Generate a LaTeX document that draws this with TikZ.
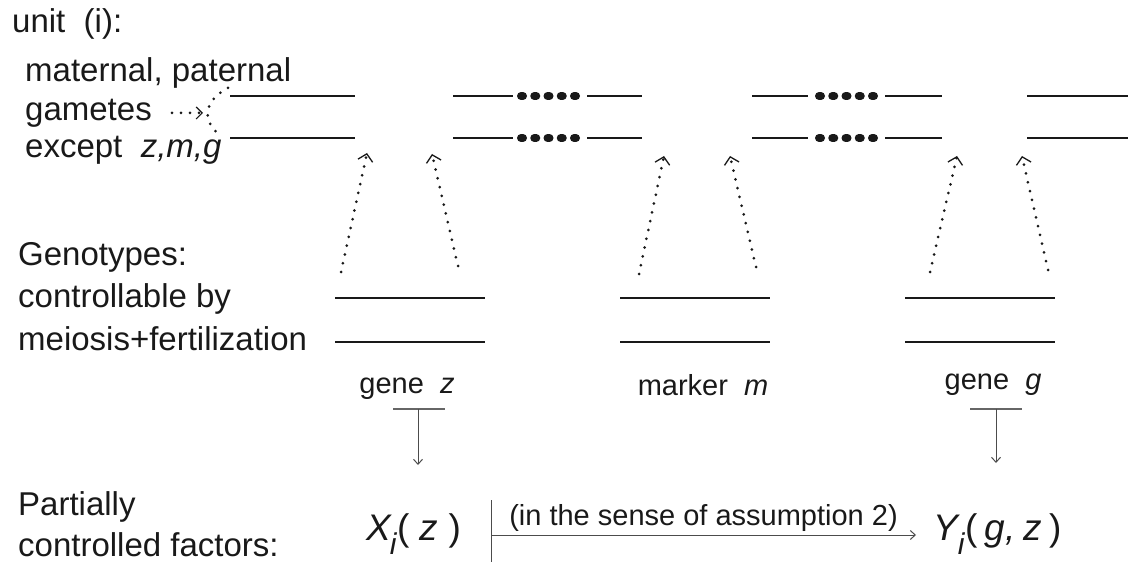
\documentclass[tikz,border=0pt]{standalone}
\usepackage{fontspec}
\setmainfont{Liberation Sans}
\usetikzlibrary{arrows.meta}
\begin{document}
\begin{tikzpicture}[x=1pt,y=-1pt,
  lbl/.style={font=\fontsize{33}{38}\selectfont, inner sep=0pt, anchor=base west, text=black!90},
  sml/.style={font=\fontsize{29}{33}\selectfont, inner sep=0pt, anchor=base, text=black!90},
  big/.style={font=\fontsize{37}{42}\selectfont, inner sep=0pt, anchor=base west, text=black!90},
  gam/.style={line width=2.8pt, black!90},
  gdots/.style={line width=8pt, line cap=round, dash pattern=on 2pt off 11.25pt, black!90},
  geno/.style={line width=2.2pt, black!90},
  dotarrow/.style={line width=3pt, line cap=round, dash pattern=on 0pt off 9pt, black!90,
    -{Straight Barb[length=7pt,width=15pt,line width=1.3pt]}},
  dotline/.style={line width=3pt, line cap=round, dash pattern=on 0pt off 9pt, black!90},
  tbar/.style={line width=1.8pt, black!60},
  thinl/.style={line width=1pt, black!70},
  thinarrow/.style={line width=1pt, black!70, -{Straight Barb[length=5pt,width=9pt,line width=1pt]}}
]
\useasboundingbox (0,0) rectangle (1128,564);

% ---- left texts
\node[lbl] (unit) at (12,33) {unit\ \ (i):};
\node[lbl] (mat) at (25,82) {maternal, paternal};
\node[lbl] (gam) at (25,121) {gametes};
\node[lbl] (exc) at (25,158) {except\ \ \textit{z,m,g}};

\node[lbl] (geno) at (18,266) {Genotypes:};
\node[lbl] (ctrl) at (18,308) {controllable by};
\node[lbl] (meio) at (18,350) {meiosis+fertilization};

\node[lbl] (part) at (18,515) {Partially};
\node[lbl] (cfac) at (18,556) {controlled factors:};

% ---- gamete lines
\foreach \y in {96,138}{
  \draw[gam] (230,\y) -- (355,\y);
  \draw[gam] (453,\y) -- (513,\y);
  \draw[gdots] (521,\y) -- (578,\y);
  \draw[gam] (587,\y) -- (642,\y);
  \draw[gam] (752,\y) -- (808,\y);
  \draw[gdots] (819,\y) -- (876,\y);
  \draw[gam] (885,\y) -- (942,\y);
  \draw[gam] (1027,\y) -- (1128,\y);
}

% ---- gametes pointer and bracket
\coordinate (gs) at (172,113);
\coordinate (gt) at (203,113);
\draw[dotarrow, -{Straight Barb[length=6pt,width=12pt,line width=1.2pt]}] (gs) -- (gt);
\coordinate (b1) at (228,88);
\coordinate (b2) at (222,136);
\draw[dotline] (b1) .. controls (202,101) and (202,124) .. (b2);

% ---- genotype lines
\foreach \y in {298,342}{
  \draw[geno] (335,\y) -- (485,\y);
  \draw[geno] (620,\y) -- (770,\y);
  \draw[geno] (905,\y) -- (1055,\y);
}

% ---- dotted arrows genotype -> gametes
\coordinate (s1) at (341,272); \coordinate (t1) at (367,153);
\coordinate (s2) at (458,266); \coordinate (t2) at (432,154);
\coordinate (s3) at (639,274); \coordinate (t3) at (664,156);
\coordinate (s4) at (756,267); \coordinate (t4) at (730,156);
\coordinate (s5) at (930,272); \coordinate (t5) at (957,156);
\coordinate (s6) at (1048,270); \coordinate (t6) at (1022,156);
\foreach \i in {1,...,6}{ \draw[dotarrow] (s\i) -- (t\i); }

% ---- locus labels
\node[sml] (gz) at (407,393) {gene\ \ \textit{z}};
\node[sml] (mm) at (703,395) {marker\ \ \textit{m}};
\node[sml] (gg) at (993,389) {gene\ \ \textit{g}};

% ---- T bars
\coordinate (tz) at (418,409);
\draw[tbar] (393,409) -- (445,409);
\coordinate (tg) at (996,409);
\draw[tbar] (970,409) -- (1022,409);

% ---- factors
\node[big] (X) at (366,540) {\textit{X}\hspace{-0.06em}\raisebox{-0.4em}{\fontsize{30}{34}\selectfont\textit{i}}( \textit{z} )};
\node[big] (Y) at (933,540) {\textit{Y}\hspace{-0.06em}\raisebox{-0.4em}{\fontsize{30}{34}\selectfont\textit{i}}(\hspace{0.2em}\textit{g,}\hspace{0.2em}\textit{z}\hspace{0.2em})};

\coordinate (xt) at (418,465);
\coordinate (yt) at (996,463);
\draw[thinarrow] (tz) -- (xt);
\draw[thinarrow] (tg) -- (yt);

\coordinate (h0) at (491,535);
\coordinate (h1) at (916,535);
\draw[thinl] (491,500) -- (491,562);
\draw[thinarrow] (h0) -- node[above=3pt, font=\fontsize{29}{33}\selectfont, text=black!90, inner sep=0pt] (lab) {(in the sense of assumption 2)} (h1);
\end{tikzpicture}
\end{document}
